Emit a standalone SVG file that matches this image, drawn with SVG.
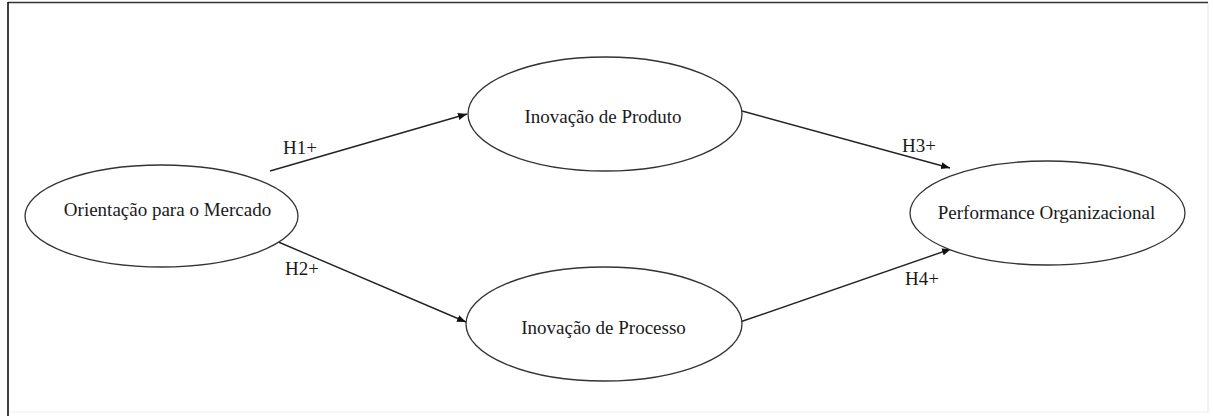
<svg xmlns="http://www.w3.org/2000/svg" width="1213" height="416" viewBox="0 0 1213 416">
<style>
.node ellipse{fill:#fff;stroke:#333;stroke-width:1.3}
.lbl{font-family:"Liberation Serif","Times New Roman",serif;font-size:19px;fill:#1a1a1a}
.node text{text-anchor:middle}
.edge{stroke:#222;stroke-width:1.4;fill:none;marker-end:url(#arr)}
</style>
<defs>
<marker id="arr" viewBox="0 0 10 10" refX="10" refY="5" markerWidth="9" markerHeight="9" markerUnits="userSpaceOnUse" orient="auto">
<path d="M0,1 L10,5 L0,9 z" fill="#111"/>
</marker>
</defs>
<rect x="0" y="0" width="1213" height="416" fill="#fff"/>
<g id="frame">
<line x1="1208" y1="2.5" x2="1208" y2="412" stroke="#e6e6e6" stroke-width="1"/>
<line x1="8" y1="412" x2="1208" y2="412" stroke="#eeeeee" stroke-width="1"/>
<line x1="8" y1="2.5" x2="1208" y2="2.5" stroke="#333" stroke-width="1.3"/>
<line x1="8" y1="2" x2="8" y2="416" stroke="#111" stroke-width="1.6"/>
</g>
<g id="connectors">
<line class="edge" x1="270" y1="171" x2="467" y2="114"/>
<line class="edge" x1="276" y1="241" x2="466" y2="322"/>
<line class="edge" x1="742" y1="111" x2="950" y2="168"/>
<line class="edge" x1="740" y1="322" x2="951" y2="249"/>
<text class="lbl" x="283" y="154">H1+</text>
<text class="lbl" x="285" y="275">H2+</text>
<text class="lbl" x="902" y="152">H3+</text>
<text class="lbl" x="905" y="285">H4+</text>
</g>
<g id="n-orientacao" class="node">
<ellipse cx="161.5" cy="216" rx="136.5" ry="51"/>
<text class="lbl" x="167.5" y="216">Orientação  para o Mercado</text>
</g>
<g id="n-produto" class="node">
<ellipse cx="605" cy="114" rx="137" ry="57"/>
<text class="lbl" x="603" y="123">Inovação de Produto</text>
</g>
<g id="n-processo" class="node">
<ellipse cx="604" cy="324" rx="138" ry="57"/>
<text class="lbl" x="603.5" y="334">Inovação de Processo</text>
</g>
<g id="n-performance" class="node">
<ellipse cx="1047.5" cy="213" rx="137.5" ry="52"/>
<text class="lbl" x="1046.5" y="219">Performance Organizacional</text>
</g>
</svg>
